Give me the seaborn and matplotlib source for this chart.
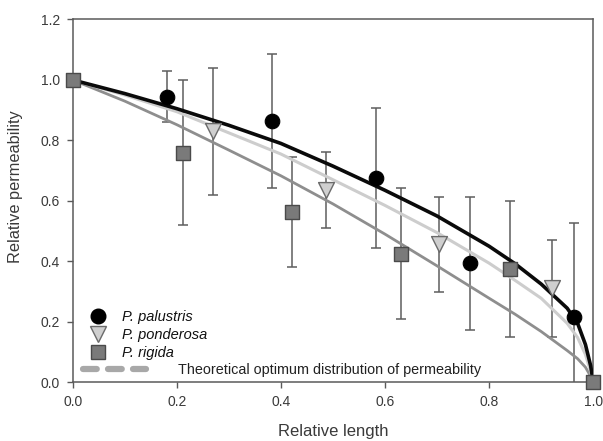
import matplotlib
matplotlib.use("Agg")
import matplotlib.pyplot as plt
import seaborn as sns
import pandas as pd
from matplotlib.lines import Line2D

# ---- data ----
pal_x = [0.181, 0.383, 0.583, 0.763, 0.963]
pal_y = [0.945, 0.865, 0.675, 0.394, 0.217]
pal_err = [0.083, 0.222, 0.232, 0.220, 0.310]

pon_x = [0.270, 0.487, 0.704, 0.920]
pon_y = [0.830, 0.637, 0.457, 0.311]
pon_err = [0.210, 0.125, 0.157, 0.160]

rig_x = [0.0, 0.211, 0.421, 0.631, 0.840, 1.0]
rig_y = [1.0, 0.760, 0.563, 0.425, 0.375, 0.0]
rig_err = [0.0, 0.240, 0.182, 0.217, 0.225, 0.0]

curve_x = [0.0, 0.1, 0.2, 0.3, 0.4, 0.5, 0.6, 0.7, 0.8, 0.85, 0.9, 0.95, 0.97, 0.985, 0.995, 1.0]
pal_fit = [1.0, 0.955, 0.905, 0.850, 0.790, 0.715, 0.635, 0.550, 0.450, 0.392, 0.325, 0.245, 0.195, 0.125, 0.055, 0.0]
pon_fit = [1.0, 0.950, 0.895, 0.825, 0.755, 0.670, 0.585, 0.495, 0.394, 0.337, 0.278, 0.195, 0.148, 0.092, 0.036, 0.0]
rig_fit = [1.0, 0.930, 0.852, 0.768, 0.683, 0.590, 0.490, 0.385, 0.278, 0.225, 0.168, 0.105, 0.078, 0.050, 0.020, 0.0]

labels = ["P. palustris", "P. ponderosa", "P. rigida"]
legend_line_label = "Theoretical optimum distribution of permeability"
x_ticks = [0.0, 0.2, 0.4, 0.6, 0.8, 1.0]
y_ticks = [0.0, 0.2, 0.4, 0.6, 0.8, 1.0, 1.2]

sns.set_style("ticks")
plt.rcParams['font.family'] = ['Liberation Sans', 'DejaVu Sans']

fig = plt.figure(figsize=(6.03, 4.41), dpi=100)
ax = fig.add_axes([0.1206, 0.1331, 0.8632, 0.8227])

txt = "#3a3a3a"
spine_c = "#5a5a5a"
err_c = "#5e5e5e"

# error bars
for xs, ys, es in [(pal_x, pal_y, pal_err), (pon_x, pon_y, pon_err), (rig_x, rig_y, rig_err)]:
    ax.errorbar(xs, ys, yerr=es, fmt='none', ecolor=err_c, elinewidth=1.1,
                capsize=3.6, capthick=1.1, zorder=2)

# fitted curves
curves = pd.DataFrame({"x": curve_x, "pal": pal_fit, "pon": pon_fit, "rig": rig_fit})
sns.lineplot(data=curves, x="x", y="rig", ax=ax, color="#8e8e8e", lw=2.0, sort=False, zorder=3)
sns.lineplot(data=curves, x="x", y="pon", ax=ax, color="#cdcdcd", lw=2.2, sort=False, zorder=3)
sns.lineplot(data=curves, x="x", y="pal", ax=ax, color="#0a0a0a", lw=2.6, sort=False, zorder=3)

# points
sns.scatterplot(x=pal_x, y=pal_y, ax=ax, marker='o', s=110, color="#000000",
                edgecolor="#000000", linewidth=0.8, zorder=5, clip_on=False)
sns.scatterplot(x=pon_x, y=pon_y, ax=ax, marker='v', s=130, color="#cfcfcf",
                edgecolor="#6a6a6a", linewidth=1.0, zorder=5, clip_on=False)
sns.scatterplot(x=rig_x, y=rig_y, ax=ax, marker='s', s=100, color="#7a7a7a",
                edgecolor="#4a4a4a", linewidth=1.0, zorder=6, clip_on=False)

ax.set_xlim(0, 1.0)
ax.set_ylim(0, 1.2)
ax.set_xticks(x_ticks)
ax.set_yticks(y_ticks)
ax.set_xticklabels([f"{t:.1f}" for t in x_ticks])
ax.set_yticklabels([f"{t:.1f}" for t in y_ticks])
ax.tick_params(direction='out', length=4, width=1, color=spine_c, labelcolor=txt,
               labelsize=10, pad=5)
for sp in ax.spines.values():
    sp.set_visible(True)
    sp.set_color(spine_c)
    sp.set_linewidth(1.1)

ax.set_xlabel("Relative length", fontsize=12, color=txt, labelpad=11)
ax.set_ylabel("Relative permeability", fontsize=11.8, color=txt, labelpad=9)
ax.yaxis.set_label_coords(-0.095, 0.538)

# legends
h1 = [
    Line2D([], [], ls='none', marker='o', ms=10.5, mfc="#000000", mec="#000000"),
    Line2D([], [], ls='none', marker='v', ms=11, mfc="#cfcfcf", mec="#6a6a6a"),
    Line2D([], [], ls='none', marker='s', ms=10, mfc="#7a7a7a", mec="#4a4a4a"),
]
leg1 = ax.legend(h1, labels, loc='lower left', bbox_to_anchor=(0.012, 0.032),
                 frameon=False, handlelength=1.2, handletextpad=1.05,
                 labelspacing=0.28, borderpad=0.2,
                 prop={'style': 'italic', 'size': 10.5})
for t in leg1.get_texts():
    t.set_color("#111111")
ax.add_artist(leg1)

h2 = [Line2D([], [], color="#a8a8a8", lw=4.5, ls=(0, (2.2, 1.8)),
             dash_capstyle='round', solid_capstyle='round')]
leg2 = ax.legend(h2, [legend_line_label], loc='lower left', bbox_to_anchor=(0.0, -0.013),
                 frameon=False, handlelength=4.4, handletextpad=2.2, borderpad=0.2,
                 prop={'size': 10.4})
for t in leg2.get_texts():
    t.set_color("#222222")

fig.savefig("out.png", dpi=100)
